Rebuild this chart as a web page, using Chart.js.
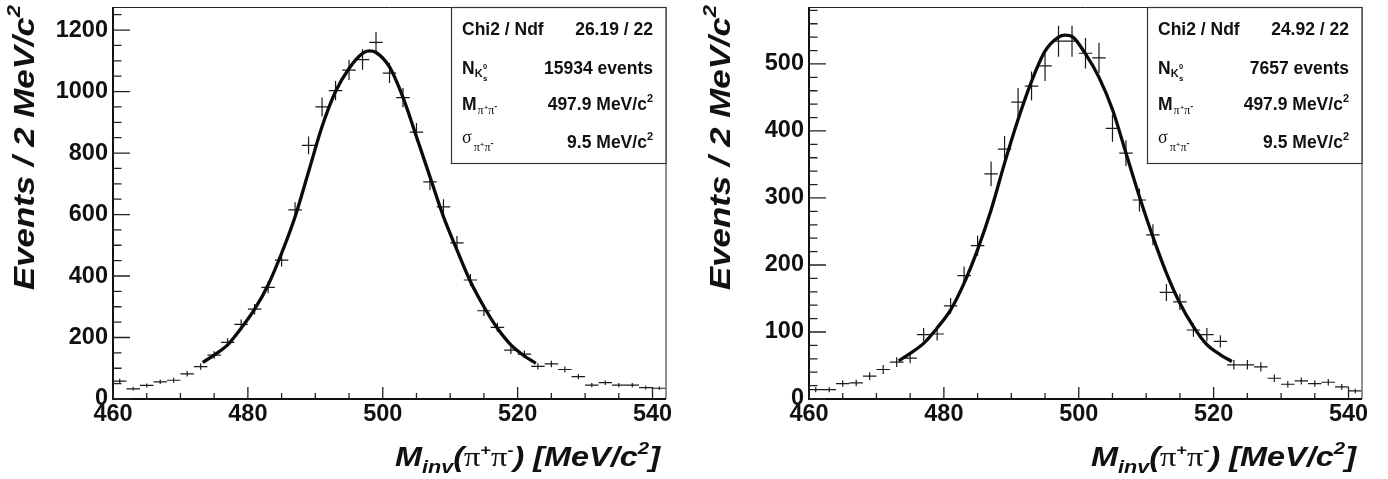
<!DOCTYPE html>
<html>
<head>
<meta charset="utf-8">
<script src="https://cdn.jsdelivr.net/npm/chart.js@4.4.1/dist/chart.umd.min.js"></script>
<style>
  html, body { margin: 0; padding: 0; background: #fff; }
  body { width: 1388px; height: 479px; position: relative; overflow: hidden; }
  .panel { position: absolute; top: 0; width: 692px; height: 479px; }
</style>
</head>
<body>
<div class="panel" style="left:0"><canvas id="massA" width="692" height="479"></canvas></div>
<div class="panel" style="left:696px"><canvas id="massB" width="692" height="479"></canvas></div>
<script>
// Bin centres of the pi+pi- invariant mass histogram (2 MeV bins, 460-542 MeV)
const binCenters = [461, 463, 465, 467, 469, 471, 473, 475, 477, 479,
                    481, 483, 485, 487, 489, 491, 493, 495, 497, 499,
                    501, 503, 505, 507, 509, 511, 513, 515, 517, 519,
                    521, 523, 525, 527, 529, 531, 533, 535, 537, 539, 541];

// Left sample: events per bin
const countsA = [58, 33, 44, 56, 61, 82, 105, 143, 184, 243,
                 292, 363, 452, 615, 825, 950, 1003, 1070, 1104, 1160,
                 1060, 980, 868, 706, 625, 508, 387, 287, 233, 159,
                 146, 106, 114, 96, 73, 45, 53, 45, 45, 37, 35];

// Right sample: events per bin
const countsB = [14, 14, 23, 24, 34, 44, 55, 61, 96, 97,
                 139, 184, 229, 336, 373, 443, 467, 497, 534, 534,
                 516, 509, 404, 367, 297, 245, 159, 145, 103, 96,
                 86, 51, 51, 48, 31, 22, 27, 23, 25, 18, 12];

// Fitted line shape, sampled along the mass axis
const fitMass = [473.3, 475, 477, 479, 481, 483, 485, 487, 489, 491,
                 493, 495, 497, 498, 499, 501, 503, 505, 507, 509,
                 511, 513, 515, 517, 519, 521, 522.7];
const fitA = [119, 143, 176, 230, 292, 371, 474, 593, 739, 886,
              1000, 1075, 1124, 1132, 1127, 1080, 981, 853, 723, 593,
              485, 382, 300, 230, 176, 140, 116];
const fitB = [57, 68, 83, 106, 133, 173, 223, 282, 352, 417,
              474, 519, 540, 543, 541, 515, 480, 432, 367, 302,
              242, 188, 143, 108, 81, 66, 56];

// Axis ticks
const xMajorTicks = [460, 480, 500, 520, 540];
const yTicksA = [0, 200, 400, 600, 800, 1000, 1200];
const yTicksB = [0, 100, 200, 300, 400, 500];

// Fit summary shown in each stats box
const statsA = ['26.19 / 22', '15934 events', '497.9 MeV/c', '9.5 MeV/c'];
const statsB = ['24.92 / 22', '7657 events', '497.9 MeV/c', '9.5 MeV/c'];

const SANS = '"Liberation Sans", Arial, Helvetica, sans-serif';
const SERIF = '"Liberation Serif", "Times New Roman", serif';

function runsWidth(ctx, runs) {
  let w = 0;
  for (const r of runs) {
    ctx.font = r.font;
    if (!r.noAdvance) w += ctx.measureText(r.text).width + (r.gap || 0);
  }
  return w;
}
function drawRuns(ctx, runs, x, y) {
  let cx = x;
  for (const r of runs) {
    ctx.font = r.font;
    ctx.fillText(r.text, cx + (r.dx || 0), y + (r.dy || 0));
    if (!r.noAdvance) cx += ctx.measureText(r.text).width + (r.gap || 0);
  }
}

const histoPlugin = {
  id: 'histo',
  beforeDatasetsDraw(chart, args, opts) {
    // error crosses: bin width horizontally, sqrt(N) vertically
    const ctx = chart.ctx, xs = chart.scales.x, ys = chart.scales.y;
    const ds = chart.data.datasets[1].data;
    ctx.save();
    ctx.beginPath();
    ctx.rect(chart.chartArea.left, chart.chartArea.top, chart.chartArea.width, chart.chartArea.height);
    ctx.clip();
    ctx.strokeStyle = '#1a1a1a';
    ctx.lineWidth = 1.2;
    ctx.beginPath();
    for (const p of ds) {
      const e = Math.sqrt(p.y);
      const x0 = xs.getPixelForValue(p.x - 1), x1 = xs.getPixelForValue(p.x + 1);
      const xc = xs.getPixelForValue(p.x);
      const yc = ys.getPixelForValue(p.y);
      const y0 = ys.getPixelForValue(p.y - e), y1 = ys.getPixelForValue(p.y + e);
      ctx.moveTo(x0, yc); ctx.lineTo(x1, yc);
      ctx.moveTo(xc, y0); ctx.lineTo(xc, y1);
    }
    ctx.stroke();
    ctx.restore();
  },
  afterDraw(chart, args, opts) {
    const ctx = chart.ctx, xs = chart.scales.x, ys = chart.scales.y;
    const a = chart.chartArea;
    ctx.save();
    // frame
    ctx.strokeStyle = '#222';
    ctx.lineWidth = 1;
    ctx.beginPath();
    ctx.moveTo(a.left, a.top + 0.5); ctx.lineTo(a.right, a.top + 0.5);
    ctx.stroke();
    ctx.strokeStyle = '#777';
    ctx.lineWidth = 1.6;
    ctx.beginPath();
    ctx.moveTo(a.right, a.top); ctx.lineTo(a.right, a.bottom);
    ctx.stroke();
    ctx.strokeStyle = '#111';
    ctx.lineWidth = 2;
    ctx.beginPath();
    ctx.moveTo(a.left, a.top); ctx.lineTo(a.left, a.bottom); ctx.lineTo(a.right, a.bottom);
    ctx.stroke();

    // inward tick marks
    ctx.strokeStyle = '#222';
    ctx.lineWidth = 1.3;
    ctx.beginPath();
    for (let v = 460; v <= 542; v += 5) {
      const px = xs.getPixelForValue(v);
      const len = (v % 20 === 0) ? 12 : 6;
      ctx.moveTo(px, a.bottom); ctx.lineTo(px, a.bottom - len);
    }
    for (let v = 0; v <= ys.max; v += opts.yMinor) {
      const py = ys.getPixelForValue(v);
      const len = (v % opts.yMajor === 0) ? 17 : 8.5;
      ctx.moveTo(a.left, py); ctx.lineTo(a.left + len, py);
    }
    ctx.stroke();

    // stats box
    const bw = 215, bh = 156;
    const bx = a.right - bw, by = a.top;
    ctx.fillStyle = '#fff';
    ctx.fillRect(bx, by, bw, bh);
    ctx.strokeStyle = '#333';
    ctx.lineWidth = 1.2;
    ctx.strokeRect(bx + 0.5, by + 0.5, bw - 0.5, bh);
    ctx.fillStyle = '#111';
    ctx.textBaseline = 'alphabetic';
    const B = 'bold 17.5px ' + SANS;
    const lx = bx + 11, rx = a.right - 13;
    const rows = [by + 28, by + 67, by + 103, by + 141];
    const labels = [
      [{ text: 'Chi2 / Ndf', font: B }],
      [{ text: 'N', font: B },
       { text: 'K', font: 'bold 11px ' + SANS, dy: 3, gap: 0.5 },
       { text: '0', font: 'bold 7.5px ' + SANS, dy: -5, noAdvance: true },
       { text: 's', font: 'bold 8px ' + SANS, dy: 7 }],
      [{ text: 'M', font: B },
       { text: 'π', font: '12px ' + SERIF, dy: 4, dx: 1, gap: 1 },
       { text: '+', font: '8px ' + SANS, dy: 0 },
       { text: 'π', font: '12px ' + SERIF, dy: 4 },
       { text: '-', font: 'bold 9px ' + SANS, dy: -1 }],
      [{ text: 'σ', font: '18px ' + SERIF, dy: -5 },
       { text: 'π', font: '12px ' + SERIF, dy: 3, dx: 2, gap: 2 },
       { text: '+', font: '8px ' + SANS, dy: -1 },
       { text: 'π', font: '12px ' + SERIF, dy: 3 },
       { text: '-', font: 'bold 9px ' + SANS, dy: -2 }]
    ];
    ctx.textAlign = 'left';
    labels.forEach((runs, i) => drawRuns(ctx, runs, lx, rows[i]));
    opts.stats.forEach((txt, i) => {
      const runs = [{ text: txt, font: B }];
      if (i >= 2) runs.push({ text: '2', font: 'bold 11px ' + SANS, dy: -8 });
      const w = runsWidth(ctx, runs);
      drawRuns(ctx, runs, rx - w, rows[i]);
    });

    // x axis title
    const T = 'bold italic 27px ' + SANS;
    const xt = [
      { text: 'M', font: T },
      { text: 'inv', font: 'bold italic 18px ' + SANS, dy: 7 },
      { text: '(', font: T },
      { text: 'π', font: '27px ' + SERIF },
      { text: '+', font: 'bold 15px ' + SANS, dy: -11 },
      { text: 'π', font: '27px ' + SERIF },
      { text: '-', font: 'bold 15px ' + SANS, dy: -11 },
      { text: ') [MeV/c', font: T },
      { text: '2', font: 'bold italic 17px ' + SANS, dy: -12 },
      { text: ']', font: T }
    ];
    const xtw = runsWidth(ctx, xt);
    const xLen = 265, xEnd = a.right - 6;
    ctx.save();
    ctx.translate(xEnd - xLen, 466);
    ctx.scale(xLen / xtw, 1);
    drawRuns(ctx, xt, 0, 0);
    ctx.restore();

    // y axis title (rotated)
    const yt = [
      { text: 'Events / 2 MeV/c', font: 'bold italic 30px ' + SANS },
      { text: '2', font: 'bold italic 19px ' + SANS, dy: -14 }
    ];
    const ytw = runsWidth(ctx, yt);
    const yLen = 285;
    ctx.save();
    ctx.translate(34, a.top - 2);
    ctx.rotate(-Math.PI / 2);
    ctx.scale(yLen / ytw, 1);
    drawRuns(ctx, yt, -ytw, 0);
    ctx.restore();

    ctx.restore();
  }
};

function makeChart(id, counts, fit, yMax, yStep, yMinor, yTicks, stats) {
  const tickFont = { family: SANS, size: 23.5, weight: 'bold' };
  return new Chart(document.getElementById(id), {
    type: 'scatter',
    data: {
      datasets: [
        {
          type: 'line',
          data: fitMass.map((m, i) => ({ x: m, y: fit[i] })),
          borderColor: '#0a0a0a',
          borderWidth: 3.3,
          pointRadius: 0,
          cubicInterpolationMode: 'monotone',
          fill: false
        },
        {
          data: binCenters.map((m, i) => ({ x: m, y: counts[i] })),
          pointRadius: 0,
          showLine: false
        }
      ]
    },
    options: {
      responsive: false,
      animation: false,
      devicePixelRatio: 1,
      layout: { padding: { top: 7, right: 26, left: 0, bottom: 0 } },
      plugins: {
        legend: { display: false },
        tooltip: { enabled: false },
        histo: { yMajor: yStep, yMinor: yMinor, stats: stats }
      },
      scales: {
        x: {
          type: 'linear', min: 460, max: 542,
          grid: { display: false, drawTicks: false },
          border: { display: false },
          ticks: {
            stepSize: 20, includeBounds: false, maxRotation: 0, padding: 1,
            color: '#111', font: tickFont,
            callback: v => (xMajorTicks.includes(v) ? String(v) : '')
          },
          afterFit: s => { s.height = 80; s.paddingLeft = 0; s.paddingRight = 0; }
        },
        y: {
          type: 'linear', min: 0, max: yMax,
          grid: { display: false, drawTicks: false },
          border: { display: false },
          ticks: {
            stepSize: yStep, includeBounds: false, padding: 5,
            color: '#111', font: tickFont,
            callback: v => (yTicks.includes(v) ? String(v) : '')
          },
          afterFit: s => { s.width = 113; s.paddingTop = 0; s.paddingBottom = 0; }
        }
      }
    },
    plugins: [histoPlugin]
  });
}

makeChart('massA', countsA, fitA, 1275, 200, 50, yTicksA, statsA);
makeChart('massB', countsB, fitB, 585, 100, 20, yTicksB, statsB);
</script>
</body>
</html>
